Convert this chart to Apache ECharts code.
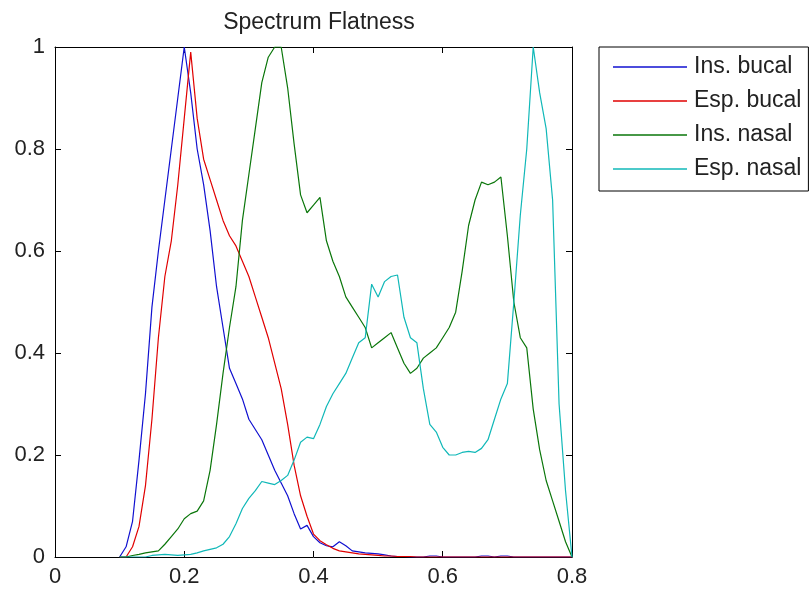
<!DOCTYPE html>
<html>
<head>
<meta charset="utf-8">
<title>Spectrum Flatness</title>
<script src="https://cdn.jsdelivr.net/npm/echarts@6/dist/echarts.min.js"></script>
<style>
  html, body { margin: 0; padding: 0; background: #ffffff; }
  #chart { width: 810px; height: 592px; }
</style>
</head>
<body>
<div id="chart"></div>
<script>
// Normalised frequency bins (x axis)
const freq = [
  0.10, 0.11, 0.12, 0.13, 0.14, 0.15, 0.16, 0.17, 0.18, 0.19,
  0.20, 0.21, 0.22, 0.23, 0.24, 0.25, 0.26, 0.27, 0.28, 0.29,
  0.30, 0.31, 0.32, 0.33, 0.34, 0.35, 0.36, 0.37, 0.38, 0.39,
  0.40, 0.41, 0.42, 0.43, 0.44, 0.45, 0.46, 0.47, 0.48, 0.49,
  0.50, 0.51, 0.52, 0.53, 0.54, 0.55, 0.56, 0.57, 0.58, 0.59,
  0.60, 0.61, 0.62, 0.63, 0.64, 0.65, 0.66, 0.67, 0.68, 0.69,
  0.70, 0.71, 0.72, 0.73, 0.74, 0.75, 0.76, 0.77, 0.78, 0.79,
  0.80
];

const insBucal = [
  0, 0.02, 0.07, 0.19, 0.32, 0.49, 0.60, 0.70, 0.80, 0.90,
  1.00, 0.91, 0.80, 0.73, 0.64, 0.53, 0.45, 0.37, 0.34, 0.31,
  0.27, 0.25, 0.23, 0.20, 0.17, 0.145, 0.12, 0.085, 0.055, 0.062,
  0.04, 0.028, 0.022, 0.02, 0.03, 0.022, 0.012, 0.01, 0.008, 0.007,
  0.006, 0.004, 0.002, 0.001, 0.001, 0, 0, 0, 0.002, 0.002,
  0, 0, 0, 0, 0, 0, 0.002, 0.002, 0, 0.002,
  0.002, 0, 0, 0, 0, 0, 0, 0, 0, 0,
  0
];

const espBucal = [
  0, 0, 0.02, 0.06, 0.14, 0.27, 0.43, 0.55, 0.62, 0.73,
  0.86, 0.99, 0.86, 0.78, 0.74, 0.70, 0.66, 0.63, 0.61, 0.58,
  0.55, 0.51, 0.47, 0.43, 0.38, 0.33, 0.26, 0.18, 0.12, 0.08,
  0.045, 0.032, 0.024, 0.017, 0.012, 0.01, 0.008, 0.006, 0.005, 0.004,
  0.003, 0.002, 0.002, 0.001, 0.001, 0.001, 0, 0, 0, 0,
  0, 0, 0, 0, 0, 0, 0, 0, 0, 0,
  0, 0, 0, 0, 0, 0, 0, 0, 0, 0,
  0
];

const insNasal = [
  0, 0, 0.003, 0.005, 0.008, 0.01, 0.012, 0.025, 0.04, 0.055,
  0.075, 0.085, 0.09, 0.11, 0.17, 0.26, 0.36, 0.45, 0.53, 0.66,
  0.75, 0.84, 0.93, 0.98, 1.00, 1.00, 0.92, 0.81, 0.71, 0.675,
  0.69, 0.705, 0.62, 0.58, 0.55, 0.51, 0.49, 0.47, 0.45, 0.41,
  0.42, 0.43, 0.44, 0.41, 0.38, 0.36, 0.37, 0.39, 0.40, 0.41,
  0.43, 0.45, 0.48, 0.56, 0.65, 0.70, 0.735, 0.73, 0.735, 0.745,
  0.63, 0.50, 0.43, 0.41, 0.29, 0.21, 0.15, 0.11, 0.07, 0.03,
  0
];

const espNasal = [
  0, 0, 0, 0, 0, 0.003, 0.004, 0.005, 0.004, 0.003,
  0.004, 0.005, 0.008, 0.012, 0.015, 0.018, 0.025, 0.04, 0.065, 0.095,
  0.115, 0.13, 0.148, 0.145, 0.142, 0.15, 0.16, 0.19, 0.225, 0.235,
  0.232, 0.26, 0.295, 0.32, 0.34, 0.36, 0.39, 0.42, 0.43, 0.535,
  0.51, 0.54, 0.55, 0.553, 0.47, 0.43, 0.42, 0.33, 0.26, 0.245,
  0.215, 0.20, 0.20, 0.205, 0.207, 0.205, 0.213, 0.23, 0.27, 0.31,
  0.34, 0.50, 0.67, 0.80, 1.00, 0.91, 0.84, 0.70, 0.30, 0.13,
  0
];

const seriesNames = ['Ins. bucal', 'Esp. bucal', 'Ins. nasal', 'Esp. nasal'];
const seriesValues = [insBucal, espBucal, insNasal, espNasal];
const seriesColors = ['#1010d0', '#e00000', '#0a760a', '#10b8b8'];

const xTicks = [0, 0.2, 0.4, 0.6, 0.8];
const yTicks = [0, 0.2, 0.4, 0.6, 0.8, 1];

const textColor = '#222222';
const fontFamily = 'Liberation Sans, Arial, sans-serif';

function tickLabel(v) {
  return String(Math.round(v * 10) / 10);
}

const baseAxis = {
  type: 'value',
  axisLine: { show: true, onZero: false, lineStyle: { color: '#000', width: 1 } },
  axisTick: { show: true, inside: true, length: 6, lineStyle: { color: '#000', width: 1 } },
  splitLine: { show: false }
};

const chart = echarts.init(document.getElementById('chart'), null, { renderer: 'canvas' });

chart.setOption({
  backgroundColor: '#ffffff',
  animation: false,
  title: {
    text: 'Spectrum Flatness',
    left: 314,
    textAlign: 'center',
    top: 6,
    textStyle: { fontFamily: fontFamily, fontSize: 23, fontWeight: 'normal', color: textColor }
  },
  legend: {
    orient: 'vertical',
    left: 599,
    top: 47,
    padding: [8, 7, 10, 14],
    itemGap: 10,
    itemWidth: 74,
    itemHeight: 1.5,
    icon: 'rect',
    backgroundColor: '#ffffff',
    borderColor: '#000',
    borderWidth: 1,
    borderRadius: 0,
    data: seriesNames,
    textStyle: { fontFamily: fontFamily, fontSize: 23, color: textColor, padding: [0, 0, 0, 2], lineHeight: 24 }
  },
  grid: { left: 55, right: 238, top: 47, bottom: 35, containLabel: false },
  xAxis: [
    Object.assign({}, baseAxis, {
      position: 'bottom',
      min: xTicks[0],
      max: xTicks[xTicks.length - 1],
      interval: 0.2,
      axisLabel: {
        show: true, margin: 9, fontFamily: fontFamily, fontSize: 22, color: textColor,
        formatter: tickLabel
      }
    }),
    Object.assign({}, baseAxis, {
      position: 'top',
      min: xTicks[0],
      max: xTicks[xTicks.length - 1],
      interval: 0.2,
      axisLabel: { show: false }
    })
  ],
  yAxis: [
    Object.assign({}, baseAxis, {
      position: 'left',
      min: yTicks[0],
      max: yTicks[yTicks.length - 1],
      interval: 0.2,
      axisLabel: {
        show: true, margin: 10, fontFamily: fontFamily, fontSize: 22, color: textColor,
        formatter: tickLabel
      }
    }),
    Object.assign({}, baseAxis, {
      position: 'right',
      min: yTicks[0],
      max: yTicks[yTicks.length - 1],
      interval: 0.2,
      axisLabel: { show: false }
    })
  ],
  series: seriesNames.map(function (name, i) {
    return {
      name: name,
      type: 'line',
      xAxisIndex: 0,
      yAxisIndex: 0,
      symbol: 'none',
      smooth: false,
      clip: true,
      color: seriesColors[i],
      itemStyle: { color: seriesColors[i] },
      lineStyle: { color: seriesColors[i], width: 1.2 },
      data: freq.map(function (x, k) { return [x, seriesValues[i][k]]; })
    };
  })
});
</script>
</body>
</html>
